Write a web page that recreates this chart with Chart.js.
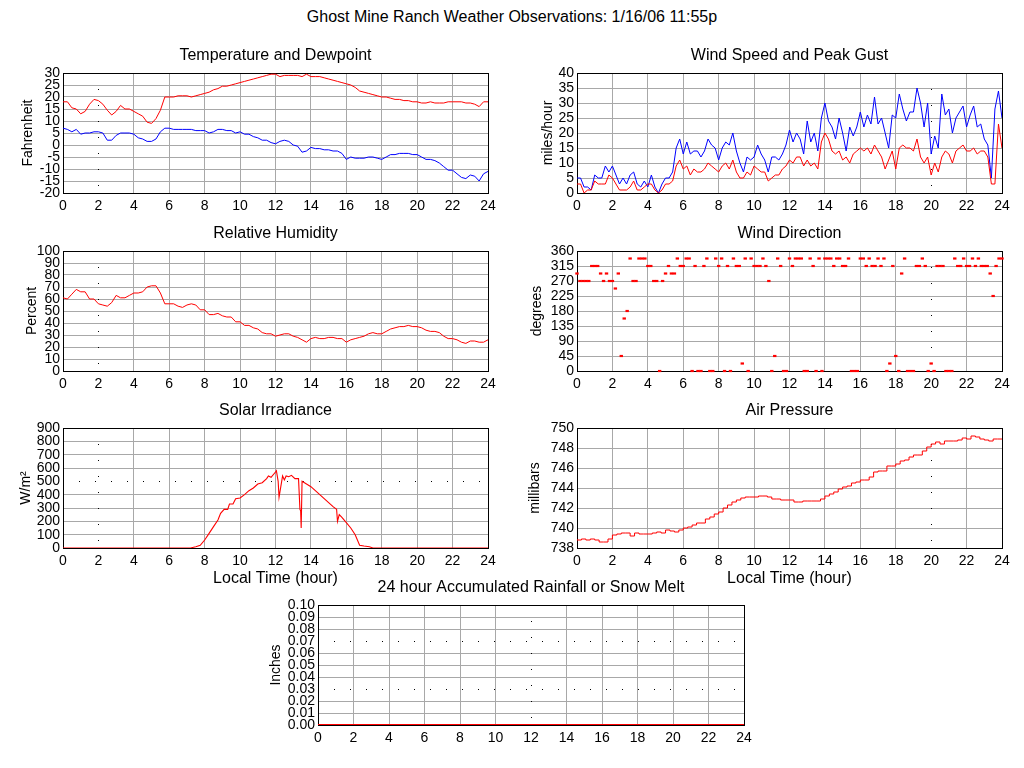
<!DOCTYPE html>
<html>
<head>
<meta charset="utf-8">
<title>Ghost Mine Ranch Weather Observations</title>
<script src="https://cdn.jsdelivr.net/npm/chart.js"></script>
<style>
    body { margin: 0; background: #fff; }
    #page { position: relative; width: 1024px; height: 768px; overflow: hidden; background: #fff; }
    #mainTitle {
        position: absolute; left: 0; top: 8px; width: 1024px; text-align: center;
        font: 16px "Liberation Sans", Arial, Helvetica, sans-serif; color: #000;
    }
    .panel { position: absolute; }
</style>
</head>
<body>
<div id="page">
    <div id="mainTitle">Ghost Mine Ranch Weather Observations: 1/16/06 11:55p</div>
</div>
<script>
// --- Data ---
// quarter-hour readings
const quarterHours = Array.from({ length: 97 }, (_, i) => i / 4);

const temperature = [
    18, 18, 15.5, 15,   13, 14, 17, 19,   18.5, 17, 14.5, 12.5,   14, 16.5, 15, 15,
    14, 13, 12, 9.5,    9, 11, 14.5, 20,  20, 20, 20.5, 20.5,     20.5, 20, 20.5, 21,
    21.5, 22, 23, 23.5, 24.5, 24.5, 25, 25.5, 26, 26.5, 27, 27.5, 28, 28.5, 29, 29.5,
    29.5, 28.5, 29, 29, 29, 29, 28.5, 29.5, 28.5, 28.5, 28.5, 28, 27.5, 27, 26.5, 26,
    25.5, 25, 24, 22.5, 22, 21.5, 21, 20.5, 20, 20, 19.5, 19,   19, 18.5, 18.5, 18,
    18, 17.5, 17.5, 18, 17.5, 17.5, 17.5, 18, 18, 18, 18, 17.5,  17.5, 17, 16, 18,
    18
];

const dewpoint = [
    7, 6.5, 5.5, 6.5,   4.5, 5, 5, 5.5,   5.5, 5, 2, 2,   4, 5, 5, 5,
    4.5, 3, 2.5, 1.5,   1.5, 2.5, 5.5, 7,   7, 6.5, 6.5, 6.5,   6.5, 6.5, 6, 6,
    6, 5, 5.5, 6.5,   6.5, 6, 6, 5,   5.5, 4.5, 4.5, 3.5,   3, 2, 2, 1,
    0.5, 1.5, 2, 1.5,   0, -0.5, -3, -2.5,   -1, -1.5, -1.5, -2,   -2, -2.5, -2.5, -3.5,
    -6, -5, -5.5, -5.5,   -5.5, -5, -5, -5.5,   -6, -5, -4, -4,   -3.5, -3.5, -3.5, -4,
    -4, -5, -6, -6,   -6.5, -7.5, -9, -10.5,   -10.5, -12, -13.5, -14,   -12.5, -13, -15, -12,
    -11
];

const humidity = [
    61, 60, 64, 68,   66, 66, 60, 60,   56, 55, 54, 57,   63, 61, 61, 63,
    65, 65, 66, 70,   71, 71, 65, 56,   56, 56, 54, 53,   55, 56, 55, 51,
    51, 47, 47, 48,   46, 45, 45, 41,   41, 38, 38, 36,   35, 32, 31, 31,
    29, 30, 31, 31,   29, 28, 26, 24,   27, 28, 27, 27,   28, 28, 27, 27,
    24, 26, 27, 28,   29, 31, 32, 31,   31, 33, 35, 36,   37, 37, 38, 37,
    37, 36, 34, 33,   33, 32, 29, 27,   27, 26, 24, 23,   25, 25, 24, 24,
    26
];

const pressure = [
    738.9, 738.8, 738.9, 738.8,   738.9, 738.8, 738.6, 738.6,   738.9, 739.3, 739.4, 739.5,
    739.5, 739.2, 739.5, 739.4,   739.4, 739.4, 739.5, 739.6,   739.5, 739.8, 739.7, 739.6,
    739.8, 740.0, 740.1, 740.3,   740.5, 740.5, 740.9, 741.1,   741.4, 741.6, 742.0, 742.3,
    742.6, 742.8, 743.0, 743.1,   743.1, 743.1, 743.2, 743.2,   743.1, 742.9, 742.9, 742.8,
    742.8, 742.8, 742.6, 742.6,   742.7, 742.7, 742.7, 742.7,   742.9, 743.2, 743.4, 743.6,
    743.9, 744.1, 744.2, 744.5,   744.6, 744.8, 744.8, 745.1,   745.6, 745.7, 745.7, 746.2,
    746.2, 746.4, 746.7, 746.8,   747.1, 747.3, 747.3, 747.7,   748.1, 748.4, 748.6, 748.4,
    748.7, 748.7, 748.7, 748.8,   749.0, 748.9, 749.2, 749.1,   748.9, 748.8, 748.7, 748.9,
    748.9
];

// wind every 12 minutes
const windHours = Array.from({ length: 121 }, (_, i) => i / 5);

const peakGust = [
    5, 5, 2, 2, 1,   6, 5, 5, 9, 7,   9, 6, 3, 5, 3,   6, 7, 3, 2, 4,
    2, 6, 2, 0, 3,   5, 5, 7, 15, 18,   13, 17, 13, 14, 14,   12, 14, 18, 16, 15,
    11, 15, 17, 16, 20,   14, 10, 7, 12, 11,   12, 16, 13, 11, 7,   12, 12, 11, 13, 16,
    21, 17, 20, 18, 13,   24, 17, 20, 14, 25,   30, 24, 22, 18, 25,   20, 14, 22, 19, 22,
    27, 22, 26, 23, 32,   23, 25, 20, 15, 26,   25, 33, 28, 24, 27,   27, 35, 30, 22, 30,
    13, 19, 15, 33, 26,   28, 20, 25, 27, 29,   22, 26, 29, 22, 23,   18, 16, 5, 28, 34,
    25
];

const windSpeed = [
    3, 3, 0, 1, 1,   4, 3, 3, 3, 6,   5, 3, 1, 1, 1,   2, 4, 1, 1, 2,
    3, 3, 1, 0, 1,   3, 3, 4, 9, 11,   8, 9, 6, 8, 7,   7, 8, 10, 9, 8,
    7, 9, 10, 8, 11,   7, 5, 5, 7, 6,   9, 8, 7, 7, 4,   5, 6, 6, 8, 9,
    11, 10, 12, 12, 9,   11, 9, 10, 8, 17,   20, 18, 14, 13, 14,   11, 12, 10, 13, 14,
    15, 14, 15, 13, 16,   14, 12, 8, 11, 14,   8, 15, 16, 15, 15,   14, 18, 12, 10, 12,
    6, 10, 7, 12, 14,   13, 10, 14, 15, 16,   14, 14, 15, 13, 14,   14, 12, 3, 3, 23,
    15
];

// wind direction every 10 minutes
const dirHours = Array.from({ length: 145 }, (_, i) => i / 6);

const windDirection = [
    292.5, 270, 270, 270, 270, 315,      315, 315, 292.5, 270, 292.5, 270,
    270, 247.5, 292.5, 45, 157.5, 180,   337.5, 270, 270, 337.5, 337.5, 337.5,
    315, 315, 270, 270, 0, 270,          292.5, 315, 292.5, 292.5, 337.5, 315,
    315, 337.5, 337.5, 0, 315, 0,        0, 315, 337.5, 0, 0, 337.5,
    315, 337.5, 0, 315, 0, 337.5,        315, 315, 22.5, 337.5, 0, 337.5,
    315, 315, 315, 337.5, 315, 270,      0, 45, 337.5, 315, 0, 0,
    337.5, 315, 337.5, 337.5, 337.5, 0,  0, 337.5, 315, 0, 337.5, 0,
    337.5, 337.5, 337.5, 315, 337.5, 337.5,  315, 315, 337.5, 0, 0, 0,
    337.5, 337.5, 315, 337.5, 315, 315,  337.5, 315, 337.5, 0, 22.5, 315,
    45, 0, 292.5, 337.5, 0, 0,           0, 315, 315, 337.5, 315, 0,
    22.5, 0, 315, 315, 315, 0,           0, 0, 337.5, 315, 315, 337.5,
    315, 315, 337.5, 315, 337.5, 315,    315, 315, 292.5, 225, 315, 337.5,
    337.5
];

const solarHours = [
    0, 7.2, 7.5, 7.75, 8, 8.25, 8.5, 8.75, 8.9, 9.1, 9.3, 9.4, 9.6, 9.75, 10,
    10.25, 10.5, 10.75, 11, 11.25, 11.5, 11.6, 11.75, 12, 12.05, 12.15, 12.2, 12.3, 12.4, 12.5,
    12.6, 12.75, 12.9, 13.1, 13.3, 13.38, 13.42, 13.45, 13.5, 13.75, 14, 14.25, 14.5, 14.75, 15,
    15.25, 15.45, 15.5, 15.6, 15.75, 16, 16.25, 16.5, 16.75, 17, 17.3, 17.5, 24
];
const solar = [
    0, 0, 10, 20, 60, 110, 160, 210, 260, 290, 290, 330, 330, 370, 375,
    400, 430, 450, 480, 490, 520, 540, 530, 570, 580, 500, 380, 460, 540, 510,
    540, 535, 545, 520, 520, 290, 280, 150, 500, 480, 460, 430, 400, 370, 340,
    310, 290, 200, 250, 230, 190, 150, 100, 20, 15, 10, 0, 0
];

const rainHours = [0, 2, 4, 6, 8, 10, 12, 14, 16, 18, 20, 22, 24];
const rain = [0, 0, 0, 0, 0, 0, 0, 0, 0, 0, 0, 0, 0];

// --- Chart setup ---
const FONT = '"Liberation Sans", Arial, Helvetica, sans-serif';
Chart.defaults.font.family = FONT;
Chart.defaults.color = '#000';

const GRID = '#a8a8a8';
const AXIS_W = 63;   // y axis box width
const TITLE_H = 30;  // panel title box height
const PAD_R = 16;

// black dotted lines that replace some grid lines
const dottedPlugin = {
    id: 'dotted',
    beforeDatasetsDraw(chart, args, opts) {
        const { ctx, chartArea: a, scales } = chart;
        ctx.save();
        ctx.strokeStyle = '#000';
        ctx.lineWidth = 1;
        ctx.setLineDash([1, 15]);
        (opts.x || []).forEach(v => {
            const px = Math.round(scales.x.getPixelForValue(v)) + 0.5;
            ctx.beginPath(); ctx.moveTo(px, a.top); ctx.lineTo(px, a.bottom); ctx.stroke();
        });
        (opts.y || []).forEach(v => {
            const py = Math.round(scales.y.getPixelForValue(v)) + 0.5;
            ctx.beginPath(); ctx.moveTo(a.left, py); ctx.lineTo(a.right, py); ctx.stroke();
        });
        ctx.restore();
    }
};
Chart.register(dottedPlugin);

function gridColor(dots, max) {
    return c => {
        if (!c.tick) return GRID;
        const v = c.tick.value;
        if (Math.abs(v - max) < 1e-9) return '#000';
        if (dots.some(d => Math.abs(d - v) < 1e-9)) return 'rgba(0,0,0,0)';
        return GRID;
    };
}

function xy(xs, ys) {
    return xs.map((x, i) => ({ x: x, y: ys[i] }));
}

function lineSet(xs, ys, color, extra) {
    return Object.assign({
        data: xy(xs, ys),
        borderColor: color,
        borderWidth: 1,
        pointRadius: 0,
        tension: 0,
        fill: false
    }, extra || {});
}

const page = document.getElementById('page');

function makePanel(p) {
    const xH = p.xTitle ? 40 : 22;
    const w = (p.right - p.left) + AXIS_W + PAD_R;
    const h = (p.bottom - p.top) + TITLE_H + xH;
    const div = document.createElement('div');
    div.className = 'panel';
    div.style.left = (p.left - AXIS_W) + 'px';
    div.style.top = (p.top - TITLE_H) + 'px';
    const canvas = document.createElement('canvas');
    canvas.width = w;
    canvas.height = h;
    canvas.style.width = w + 'px';
    canvas.style.height = h + 'px';
    div.appendChild(canvas);
    page.appendChild(div);

    const dotX = p.dotX || [];
    const dotY = p.dotY || [];

    new Chart(canvas, {
        type: 'line',
        data: { datasets: p.datasets },
        options: {
            responsive: false,
            animation: false,
            events: [],
            layout: { padding: { left: 0, right: PAD_R, top: 0, bottom: 0 } },
            plugins: {
                legend: { display: false },
                tooltip: { enabled: false },
                title: {
                    display: true, text: p.title, fullSize: false, color: '#000',
                    font: { size: 16, weight: 'normal' }, padding: { top: 2.5, bottom: 8.3 }
                },
                dotted: { x: dotX, y: dotY }
            },
            scales: {
                x: {
                    type: 'linear', min: 0, max: 24,
                    afterFit: s => { s.height = xH; },
                    ticks: { stepSize: 2, autoSkip: false, maxRotation: 0, padding: 5, font: { size: 14 }, color: '#000' },
                    grid: { drawTicks: false, color: gridColor(dotX, 24), lineWidth: 1 },
                    border: { color: '#000', width: 1 },
                    title: {
                        display: !!p.xTitle, text: p.xTitle || '', color: '#000',
                        font: { size: 16 }, padding: { top: 0, bottom: 0 }
                    }
                },
                y: {
                    type: 'linear', min: p.yMin, max: p.yMax,
                    afterFit: s => { s.width = AXIS_W; },
                    ticks: {
                        stepSize: p.yStep, autoSkip: false, padding: 3, font: { size: 14 }, color: '#000',
                        callback: p.yFormat || (v => v)
                    },
                    grid: { drawTicks: false, color: gridColor(dotY, p.yMax), lineWidth: 1 },
                    border: { color: '#000', width: 1 },
                    title: {
                        display: true, text: p.yTitle, color: '#000',
                        font: { size: 14 }, padding: { top: p.yTitlePad, bottom: 0 }
                    }
                }
            }
        }
    });
}

makePanel({
    title: 'Temperature and Dewpoint', yTitle: 'Fahrenheit', yTitlePad: 20,
    left: 63, right: 488, top: 73, bottom: 193,
    yMin: -20, yMax: 30, yStep: 5, dotX: [2],
    datasets: [
        lineSet(quarterHours, temperature, '#ff0000'),
        lineSet(quarterHours, dewpoint, '#0000ff')
    ]
});

makePanel({
    title: 'Wind Speed and Peak Gust', yTitle: 'miles/hour', yTitlePad: 26,
    left: 577, right: 1002, top: 73, bottom: 193,
    yMin: 0, yMax: 40, yStep: 5, dotX: [20],
    datasets: [
        lineSet(windHours, windSpeed, '#ff0000'),
        lineSet(windHours, peakGust, '#0000ff')
    ]
});

makePanel({
    title: 'Relative Humidity', yTitle: 'Percent', yTitlePad: 24,
    left: 63, right: 488, top: 251, bottom: 371,
    yMin: 0, yMax: 100, yStep: 10, dotX: [2],
    datasets: [lineSet(quarterHours, humidity, '#ff0000')]
});

makePanel({
    title: 'Wind Direction', yTitle: 'degrees', yTitlePad: 15,
    left: 577, right: 1002, top: 251, bottom: 371,
    yMin: 0, yMax: 360, yStep: 45, dotX: [20],
    datasets: [{
        data: xy(dirHours, windDirection),
        showLine: false,
        pointStyle: 'line',
        pointRadius: 1.7,
        pointBorderWidth: 2.2,
        pointBorderColor: '#ff0000',
        borderColor: '#ff0000',
        clip: 3
    }]
});

makePanel({
    title: 'Solar Irradiance', yTitle: 'W/m\u00B2', yTitlePad: 18,
    left: 63, right: 488, top: 428, bottom: 548, xTitle: 'Local Time (hour)',
    yMin: 0, yMax: 900, yStep: 100, dotX: [2], dotY: [500],
    datasets: [lineSet(solarHours, solar, '#ff0000', { borderWidth: 1.1 })]
});

makePanel({
    title: 'Air Pressure', yTitle: 'millibars', yTitlePad: 13,
    left: 577, right: 1002, top: 428, bottom: 548, xTitle: 'Local Time (hour)',
    yMin: 738, yMax: 750, yStep: 2, dotX: [20],
    datasets: [lineSet(quarterHours, pressure, '#ff0000', { stepped: 'after' })]
});

makePanel({
    title: '24 hour Accumulated Rainfall or Snow Melt', yTitle: 'Inches', yTitlePad: 13,
    left: 318, right: 744, top: 605, bottom: 725,
    yMin: 0, yMax: 0.1, yStep: 0.01, dotX: [12], dotY: [0.07, 0.03],
    yFormat: v => Number(v).toFixed(2),
    datasets: [lineSet(rainHours, rain, '#ff0000', { borderWidth: 2 })]
});
</script>
</body>
</html>
